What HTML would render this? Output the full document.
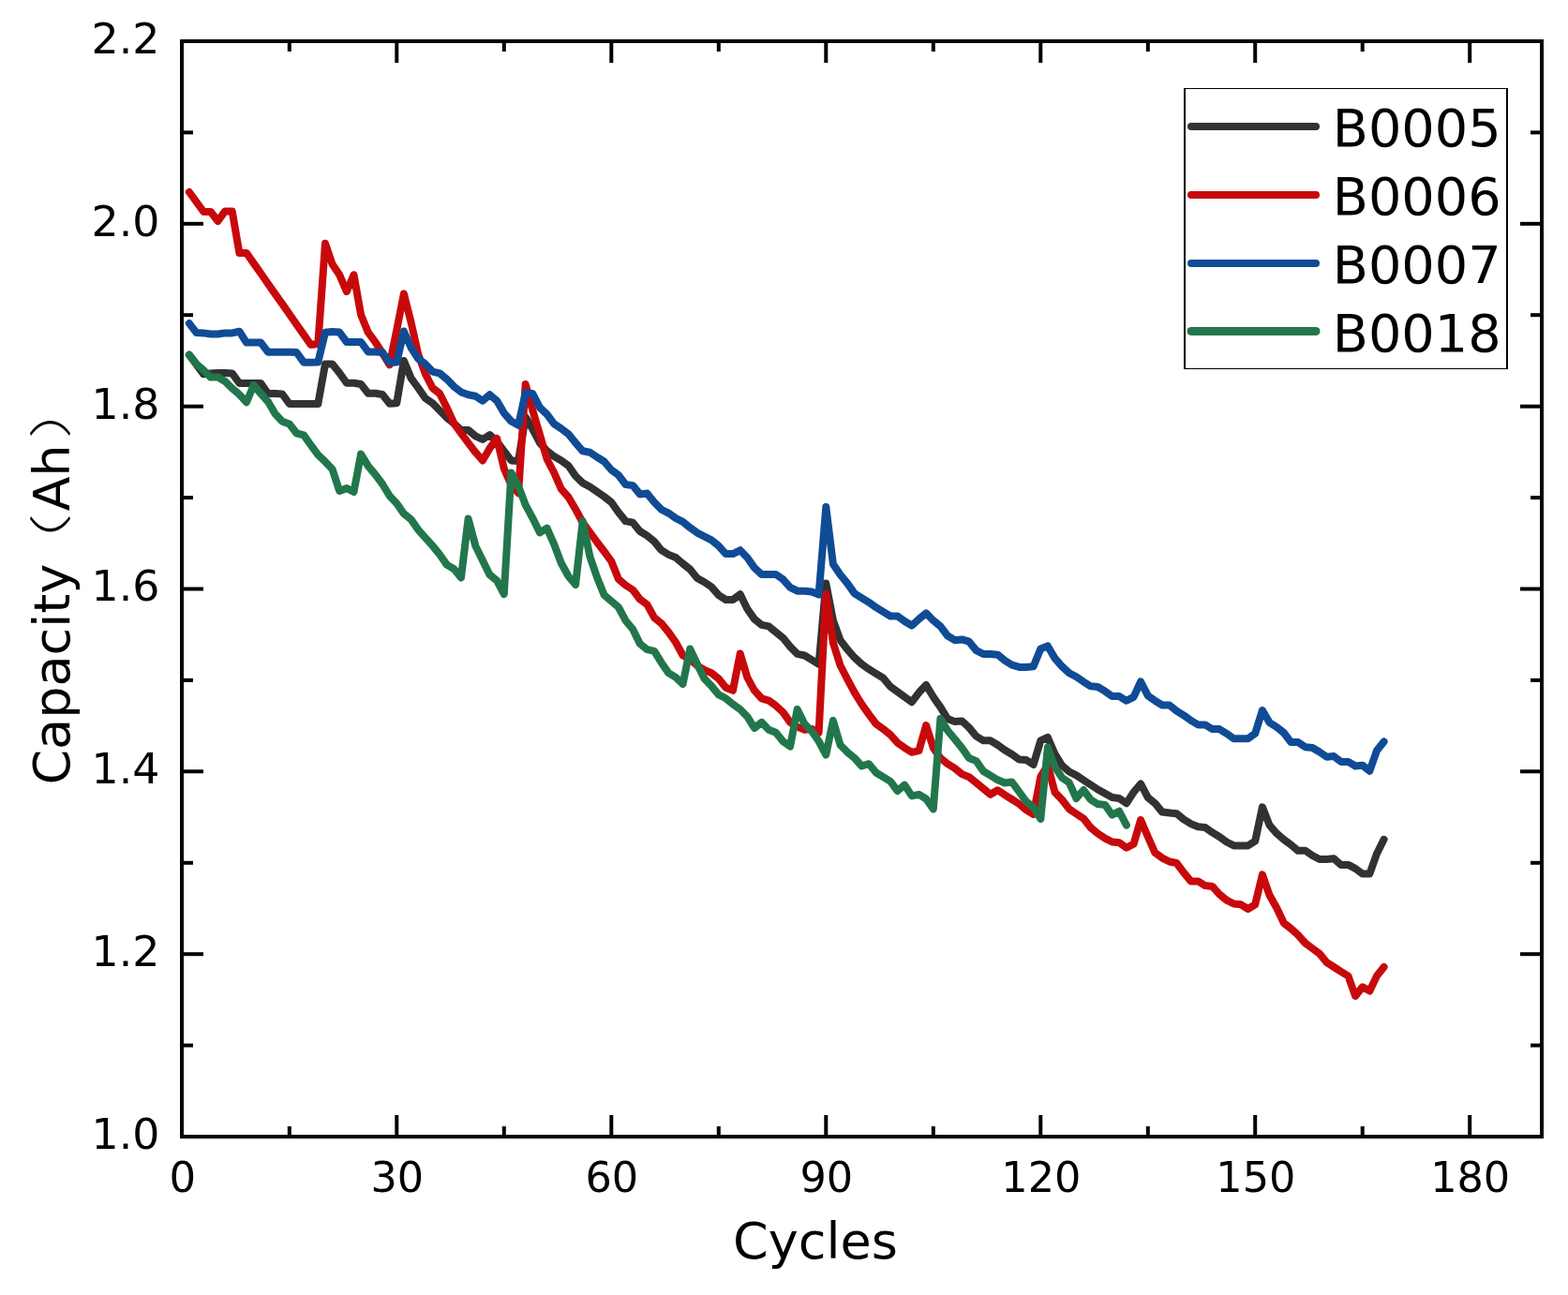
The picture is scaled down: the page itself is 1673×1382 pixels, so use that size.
<!DOCTYPE html>
<html><head><meta charset="utf-8"><title>Capacity vs Cycles</title>
<style>html,body{margin:0;padding:0;background:#fff;}svg{display:block;}</style>
</head><body>
<svg width="1673" height="1382" viewBox="0 0 1673 1382">
<rect x="0" y="0" width="1673" height="1382" fill="#fff"/>
<polyline points="201.9,378.7 209.6,389.0 217.2,399.3 224.8,398.4 232.5,398.0 240.1,398.0 247.7,398.4 255.4,409.0 263.0,409.0 270.6,409.0 278.3,409.0 285.9,420.0 293.5,420.0 301.2,420.5 308.8,431.0 316.4,431.0 324.1,431.0 331.7,431.0 339.3,431.0 347.0,388.5 354.6,388.5 362.2,398.0 369.9,408.8 377.5,408.8 385.1,410.0 392.8,419.8 400.4,419.8 408.0,421.0 415.7,430.8 423.3,430.2 430.9,385.0 438.6,403.6 446.2,414.0 453.8,425.0 461.5,430.2 469.1,438.0 476.7,445.8 484.4,452.0 492.0,458.9 499.6,458.9 507.3,465.4 514.9,469.0 522.5,464.0 530.2,471.2 537.8,481.3 545.4,491.4 553.1,492.0 560.7,445.1 568.3,458.1 576.0,472.6 583.6,481.3 591.2,487.1 598.8,491.4 606.5,497.0 614.1,508.0 621.7,515.4 629.4,519.5 637.0,524.8 644.6,530.0 652.3,536.0 659.9,546.8 667.5,556.1 675.2,557.7 682.8,567.0 690.4,571.7 698.1,577.9 705.7,587.2 713.3,591.9 721.0,595.0 728.6,601.5 736.2,607.5 743.9,617.0 751.5,621.2 759.1,626.3 766.8,635.2 774.4,640.0 782.0,640.0 789.7,634.2 797.3,649.7 804.9,660.6 812.6,666.8 820.2,668.4 827.8,674.6 835.5,680.8 843.1,690.1 850.7,697.9 858.4,699.5 866.0,704.1 873.6,708.8 881.3,622.5 888.9,662.0 896.5,683.1 904.2,693.2 911.8,701.8 919.4,708.8 927.1,714.2 934.7,718.9 942.3,723.5 950.0,732.8 957.6,738.3 965.2,743.7 972.9,749.2 980.5,739.1 988.1,731.0 995.8,743.7 1003.4,754.6 1011.0,767.0 1018.7,770.1 1026.3,769.4 1033.9,776.4 1041.6,785.7 1049.2,790.3 1056.8,790.3 1064.5,795.0 1072.1,800.5 1079.7,805.0 1087.4,810.6 1095.0,811.0 1102.6,816.0 1110.3,790.4 1117.9,787.0 1125.5,804.5 1133.2,817.0 1140.8,823.5 1148.4,827.4 1156.1,832.5 1163.7,837.5 1171.3,842.5 1179.0,846.8 1186.6,851.1 1194.2,851.9 1201.9,857.3 1209.5,845.5 1217.1,836.5 1224.8,851.1 1232.4,857.3 1240.0,866.6 1247.7,867.4 1255.3,868.2 1262.9,874.4 1270.6,879.1 1278.2,882.2 1285.8,882.9 1293.5,888.4 1301.1,893.0 1308.7,898.5 1316.4,902.4 1324.0,902.4 1331.6,902.4 1339.2,897.7 1346.9,861.3 1354.5,880.6 1362.1,889.3 1369.8,896.0 1377.4,901.5 1385.0,907.8 1392.7,907.8 1400.3,913.0 1407.9,917.0 1415.6,917.0 1423.2,916.2 1430.8,922.9 1438.5,922.9 1446.1,926.9 1453.7,932.5 1461.4,932.5 1469.0,911.0 1476.6,895.8" fill="none" stroke="#323232" stroke-width="8" stroke-linejoin="round" stroke-linecap="round"/>
<polyline points="201.9,205.0 209.6,215.5 217.2,226.0 224.8,226.0 232.5,236.0 240.1,225.4 247.7,225.4 255.4,270.0 263.0,270.0 270.6,280.9 278.3,291.8 285.9,302.7 293.5,313.6 301.2,324.4 308.8,335.3 316.4,346.2 324.1,357.1 331.7,368.0 339.3,367.0 347.0,259.7 354.6,282.0 362.2,293.3 369.9,311.2 377.5,293.3 385.1,336.0 392.8,354.6 400.4,365.0 408.0,376.6 415.7,389.4 423.3,352.0 430.9,313.5 438.6,344.0 446.2,378.0 453.8,399.0 461.5,414.0 469.1,420.0 476.7,435.0 484.4,452.0 492.0,462.5 499.6,472.6 507.3,482.7 514.9,491.4 522.5,478.4 530.2,468.0 537.8,500.1 545.4,517.5 553.1,526.2 560.7,410.0 568.3,437.9 576.0,463.9 583.6,490.0 591.2,504.5 598.8,521.8 606.5,530.5 614.1,543.5 621.7,557.5 629.4,568.0 637.0,578.5 644.6,588.5 652.3,599.0 659.9,618.0 667.5,624.5 675.2,629.5 682.8,639.5 690.4,645.1 698.1,659.1 705.7,665.3 713.3,674.6 721.0,685.5 728.6,699.5 736.2,703.3 743.9,710.3 751.5,715.0 759.1,718.1 766.8,724.3 774.4,733.7 782.0,736.8 789.7,697.5 797.3,722.8 804.9,736.8 812.6,745.3 820.2,747.6 827.8,753.1 835.5,760.1 843.1,770.9 850.7,775.6 858.4,778.7 866.0,777.9 873.6,781.8 881.3,634.0 888.9,686.0 896.5,710.0 904.2,725.0 911.8,739.1 919.4,751.5 927.1,762.4 934.7,772.5 942.3,777.9 950.0,784.1 957.6,792.7 965.2,798.1 972.9,802.8 980.5,801.2 988.1,774.0 995.8,798.1 1003.4,809.0 1011.0,815.2 1018.7,819.9 1026.3,826.1 1033.9,829.2 1041.6,835.4 1049.2,841.6 1056.8,847.8 1064.5,843.2 1072.1,848.3 1079.7,853.0 1087.4,858.0 1095.0,864.3 1102.6,869.0 1110.3,828.9 1117.9,816.7 1125.5,845.4 1133.2,853.5 1140.8,863.4 1148.4,868.5 1156.1,873.6 1163.7,883.2 1171.3,889.5 1179.0,894.6 1186.6,898.5 1194.2,899.3 1201.9,904.7 1209.5,900.8 1217.1,875.0 1224.8,893.0 1232.4,910.1 1240.0,915.6 1247.7,919.5 1255.3,921.0 1262.9,931.1 1270.6,940.4 1278.2,940.4 1285.8,945.1 1293.5,945.9 1301.1,954.4 1308.7,960.6 1316.4,964.5 1324.0,965.3 1331.6,970.0 1339.2,965.3 1346.9,933.4 1354.5,955.2 1362.1,968.8 1369.8,985.0 1377.4,991.0 1385.0,997.8 1392.7,1006.5 1400.3,1012.1 1407.9,1017.7 1415.6,1027.2 1423.2,1032.0 1430.8,1036.8 1438.5,1041.6 1446.1,1063.0 1453.7,1053.3 1461.4,1057.5 1469.0,1041.6 1476.6,1032.0" fill="none" stroke="#C8090C" stroke-width="8" stroke-linejoin="round" stroke-linecap="round"/>
<polyline points="201.9,345.1 209.6,355.1 217.2,355.4 224.8,356.5 232.5,356.5 240.1,355.4 247.7,355.4 255.4,353.7 263.0,365.6 270.6,365.6 278.3,365.6 285.9,375.7 293.5,375.7 301.2,375.7 308.8,375.7 316.4,376.0 324.1,386.7 331.7,386.7 339.3,386.6 347.0,354.8 354.6,354.0 362.2,354.6 369.9,365.0 377.5,365.0 385.1,365.0 392.8,375.5 400.4,375.5 408.0,376.0 415.7,387.0 423.3,386.5 430.9,353.5 438.6,371.0 446.2,382.7 453.8,388.5 461.5,396.6 469.1,398.3 476.7,404.6 484.4,412.6 492.0,418.4 499.6,421.2 507.3,422.7 514.9,427.8 522.5,421.2 530.2,427.8 537.8,440.8 545.4,449.5 553.1,453.8 560.7,419.1 568.3,420.0 576.0,435.0 583.6,442.2 591.2,452.4 598.8,457.4 606.5,463.2 614.1,472.6 621.7,481.3 629.4,482.7 637.0,487.8 644.6,492.5 652.3,501.5 659.9,507.0 667.5,517.0 675.2,518.1 682.8,527.4 690.4,526.6 698.1,536.0 705.7,543.7 713.3,547.6 721.0,553.0 728.6,556.9 736.2,563.1 743.9,568.6 751.5,572.5 759.1,576.4 766.8,582.6 774.4,591.1 782.0,591.1 789.7,587.2 797.3,595.0 804.9,605.9 812.6,613.0 820.2,613.0 827.8,613.0 835.5,618.3 843.1,626.9 850.7,630.7 858.4,630.7 866.0,631.5 873.6,634.5 881.3,541.0 888.9,602.0 896.5,613.2 904.2,622.6 911.8,633.4 919.4,638.1 927.1,642.8 934.7,648.2 942.3,652.9 950.0,657.5 957.6,657.5 965.2,663.0 972.9,667.6 980.5,660.6 988.1,654.4 995.8,662.2 1003.4,668.4 1011.0,678.5 1018.7,683.2 1026.3,682.4 1033.9,684.7 1041.6,694.1 1049.2,698.0 1056.8,698.0 1064.5,698.7 1072.1,704.9 1079.7,709.6 1087.4,711.9 1095.0,711.9 1102.6,711.2 1110.3,692.5 1117.9,689.4 1125.5,702.5 1133.2,711.3 1140.8,718.3 1148.4,722.2 1156.1,727.6 1163.7,732.3 1171.3,733.0 1179.0,737.7 1186.6,743.1 1194.2,743.1 1201.9,747.8 1209.5,743.9 1217.1,727.5 1224.8,742.4 1232.4,747.8 1240.0,752.5 1247.7,752.5 1255.3,758.7 1262.9,763.3 1270.6,768.8 1278.2,773.4 1285.8,773.4 1293.5,778.1 1301.1,778.1 1308.7,782.8 1316.4,788.2 1324.0,788.2 1331.6,788.2 1339.2,782.8 1346.9,758.0 1354.5,771.1 1362.1,775.9 1369.8,782.0 1377.4,792.1 1385.0,792.1 1392.7,797.3 1400.3,798.0 1407.9,802.5 1415.6,807.7 1423.2,807.1 1430.8,812.9 1438.5,812.9 1446.1,817.5 1453.7,816.8 1461.4,822.7 1469.0,801.0 1476.6,791.4" fill="none" stroke="#104B96" stroke-width="8" stroke-linejoin="round" stroke-linecap="round"/>
<polyline points="201.9,378.7 209.6,388.5 217.2,395.0 224.8,402.6 232.5,402.6 240.1,406.9 247.7,414.5 255.4,421.0 263.0,429.2 270.6,411.2 278.3,420.0 285.9,428.6 293.5,441.6 301.2,449.8 308.8,452.5 316.4,462.3 324.1,464.4 331.7,475.0 339.3,485.3 347.0,492.7 354.6,500.8 362.2,524.0 369.9,521.0 377.5,525.0 385.1,484.6 392.8,497.4 400.4,506.4 408.0,516.5 415.7,529.3 423.3,537.3 430.9,548.2 438.6,554.4 446.2,565.3 453.8,573.8 461.5,582.4 469.1,591.7 476.7,602.6 484.4,607.2 492.0,616.5 499.6,553.5 507.3,582.4 514.9,597.9 522.5,613.4 530.2,619.7 537.8,634.0 545.4,504.5 553.1,518.6 560.7,538.9 568.3,552.8 576.0,568.4 583.6,563.7 591.2,580.8 598.8,601.0 606.5,615.0 614.1,624.0 621.7,556.0 629.4,594.0 637.0,616.0 644.6,635.0 652.3,641.5 659.9,648.0 667.5,662.2 675.2,671.5 682.8,687.0 690.4,693.2 698.1,694.8 705.7,707.2 713.3,718.1 721.0,722.8 728.6,730.0 736.2,692.5 743.9,708.8 751.5,724.3 759.1,732.1 766.8,741.4 774.4,745.3 782.0,751.5 789.7,757.0 797.3,764.7 804.9,777.0 812.6,770.9 820.2,778.7 827.8,781.8 835.5,791.2 843.1,796.6 850.7,757.0 858.4,772.5 866.0,780.3 873.6,791.0 881.3,805.5 888.9,769.0 896.5,795.0 904.2,802.8 911.8,809.0 919.4,817.5 927.1,815.2 934.7,824.5 942.3,829.2 950.0,833.9 957.6,844.0 965.2,837.7 972.9,849.4 980.5,847.8 988.1,852.5 995.8,863.4 1003.4,767.0 1011.0,779.5 1018.7,788.8 1026.3,798.1 1033.9,809.0 1041.6,812.1 1049.2,823.0 1056.8,827.6 1064.5,832.3 1072.1,835.5 1079.7,834.5 1087.4,845.0 1095.0,855.5 1102.6,861.5 1110.3,874.0 1117.9,797.5 1125.5,818.5 1133.2,830.0 1140.8,835.3 1148.4,852.0 1156.1,843.0 1163.7,853.4 1171.3,858.1 1179.0,858.9 1186.6,869.7 1194.2,865.8 1201.9,880.6" fill="none" stroke="#22764C" stroke-width="8" stroke-linejoin="round" stroke-linecap="round"/>
<g stroke="#000" stroke-width="4" fill="none">
<rect x="194" y="44" width="1451" height="1169"/>
<line x1="308.8" y1="1213" x2="308.8" y2="1202"/>
<line x1="308.8" y1="44" x2="308.8" y2="55"/>
<line x1="423.3" y1="1213" x2="423.3" y2="1190"/>
<line x1="423.3" y1="44" x2="423.3" y2="67"/>
<line x1="537.8" y1="1213" x2="537.8" y2="1202"/>
<line x1="537.8" y1="44" x2="537.8" y2="55"/>
<line x1="652.3" y1="1213" x2="652.3" y2="1190"/>
<line x1="652.3" y1="44" x2="652.3" y2="67"/>
<line x1="766.8" y1="1213" x2="766.8" y2="1202"/>
<line x1="766.8" y1="44" x2="766.8" y2="55"/>
<line x1="881.3" y1="1213" x2="881.3" y2="1190"/>
<line x1="881.3" y1="44" x2="881.3" y2="67"/>
<line x1="995.8" y1="1213" x2="995.8" y2="1202"/>
<line x1="995.8" y1="44" x2="995.8" y2="55"/>
<line x1="1110.3" y1="1213" x2="1110.3" y2="1190"/>
<line x1="1110.3" y1="44" x2="1110.3" y2="67"/>
<line x1="1224.8" y1="1213" x2="1224.8" y2="1202"/>
<line x1="1224.8" y1="44" x2="1224.8" y2="55"/>
<line x1="1339.2" y1="1213" x2="1339.2" y2="1190"/>
<line x1="1339.2" y1="44" x2="1339.2" y2="67"/>
<line x1="1453.7" y1="1213" x2="1453.7" y2="1202"/>
<line x1="1453.7" y1="44" x2="1453.7" y2="55"/>
<line x1="1568.2" y1="1213" x2="1568.2" y2="1190"/>
<line x1="1568.2" y1="44" x2="1568.2" y2="67"/>
<line x1="194" y1="1115.6" x2="206" y2="1115.6"/>
<line x1="1645" y1="1115.6" x2="1633" y2="1115.6"/>
<line x1="194" y1="1018.2" x2="217" y2="1018.2"/>
<line x1="1645" y1="1018.2" x2="1622" y2="1018.2"/>
<line x1="194" y1="920.8" x2="206" y2="920.8"/>
<line x1="1645" y1="920.8" x2="1633" y2="920.8"/>
<line x1="194" y1="823.3" x2="217" y2="823.3"/>
<line x1="1645" y1="823.3" x2="1622" y2="823.3"/>
<line x1="194" y1="725.9" x2="206" y2="725.9"/>
<line x1="1645" y1="725.9" x2="1633" y2="725.9"/>
<line x1="194" y1="628.5" x2="217" y2="628.5"/>
<line x1="1645" y1="628.5" x2="1622" y2="628.5"/>
<line x1="194" y1="531.1" x2="206" y2="531.1"/>
<line x1="1645" y1="531.1" x2="1633" y2="531.1"/>
<line x1="194" y1="433.7" x2="217" y2="433.7"/>
<line x1="1645" y1="433.7" x2="1622" y2="433.7"/>
<line x1="194" y1="336.2" x2="206" y2="336.2"/>
<line x1="1645" y1="336.2" x2="1633" y2="336.2"/>
<line x1="194" y1="238.8" x2="217" y2="238.8"/>
<line x1="1645" y1="238.8" x2="1622" y2="238.8"/>
<line x1="194" y1="141.4" x2="206" y2="141.4"/>
<line x1="1645" y1="141.4" x2="1633" y2="141.4"/>
</g>
<g font-family="DejaVu Sans, sans-serif" fill="#000">
<text font-size="44.2" text-anchor="end" transform="translate(170.5,1225.9) scale(1.037,1)">1.0</text>
<text font-size="44.2" text-anchor="end" transform="translate(170.5,1031.1) scale(1.037,1)">1.2</text>
<text font-size="44.2" text-anchor="end" transform="translate(170.5,836.2) scale(1.037,1)">1.4</text>
<text font-size="44.2" text-anchor="end" transform="translate(170.5,641.4) scale(1.037,1)">1.6</text>
<text font-size="44.2" text-anchor="end" transform="translate(170.5,446.6) scale(1.037,1)">1.8</text>
<text font-size="44.2" text-anchor="end" transform="translate(170.5,251.7) scale(1.037,1)">2.0</text>
<text font-size="44.2" text-anchor="end" transform="translate(170.5,56.9) scale(1.037,1)">2.2</text>
<text font-size="45" text-anchor="middle" transform="translate(194.8,1272.4) scale(1.0,1)">0</text>
<text font-size="45" text-anchor="middle" transform="translate(423.8,1272.4) scale(0.99,1)">30</text>
<text font-size="45" text-anchor="middle" transform="translate(652.8,1272.4) scale(0.99,1)">60</text>
<text font-size="45" text-anchor="middle" transform="translate(881.8,1272.4) scale(0.99,1)">90</text>
<text font-size="45" text-anchor="middle" transform="translate(1110.8,1272.4) scale(0.99,1)">120</text>
<text font-size="45" text-anchor="middle" transform="translate(1339.8,1272.4) scale(0.99,1)">150</text>
<text font-size="45" text-anchor="middle" transform="translate(1568.7,1272.4) scale(0.99,1)">180</text>
</g>
<text font-family="DejaVu Sans, sans-serif" font-size="52.6" text-anchor="middle" transform="translate(869.95,1343.4) scale(1.028,1)">Cycles</text>
<g fill="#000">
<text font-family="DejaVu Sans, sans-serif" font-size="54" transform="translate(74,837.6) rotate(-90)">Capacity</text>
<text font-family="Noto Sans CJK SC, sans-serif" font-weight="300" font-size="45.53" transform="translate(71.30,616.35) rotate(-90) scale(1.503,1)">（</text>
<text font-family="DejaVu Sans, sans-serif" font-size="54" transform="translate(74,545.6) rotate(-90)">Ah</text>
<text font-family="Noto Sans CJK SC, sans-serif" font-weight="300" font-size="45.53" transform="translate(71.30,468.10) rotate(-90) scale(1.452,1)">）</text>
</g>
<g stroke="#000" fill="none">
<line x1="1264" y1="94" x2="1264" y2="394" stroke-width="2"/>
<line x1="1608" y1="94" x2="1608" y2="394" stroke-width="2"/>
<line x1="1263" y1="94.5" x2="1609" y2="94.5" stroke-width="1"/>
<line x1="1263" y1="393.5" x2="1609" y2="393.5" stroke-width="1"/>
</g>
<line x1="1271" y1="135" x2="1404" y2="135" stroke="#323232" stroke-width="8" stroke-linecap="round"/>
<text font-family="DejaVu Sans, sans-serif" font-size="54.4" transform="translate(1421.7,156.4) scale(1.024,1)">B0005</text>
<line x1="1271" y1="208" x2="1404" y2="208" stroke="#C8090C" stroke-width="8" stroke-linecap="round"/>
<text font-family="DejaVu Sans, sans-serif" font-size="54.4" transform="translate(1421.7,229.4) scale(1.024,1)">B0006</text>
<line x1="1271" y1="281" x2="1404" y2="281" stroke="#104B96" stroke-width="8" stroke-linecap="round"/>
<text font-family="DejaVu Sans, sans-serif" font-size="54.4" transform="translate(1421.7,302.4) scale(1.024,1)">B0007</text>
<line x1="1271" y1="353.5" x2="1404" y2="353.5" stroke="#22764C" stroke-width="9" stroke-linecap="round"/>
<text font-family="DejaVu Sans, sans-serif" font-size="54.4" transform="translate(1421.7,374.9) scale(1.024,1)">B0018</text>
</svg>
</body></html>
